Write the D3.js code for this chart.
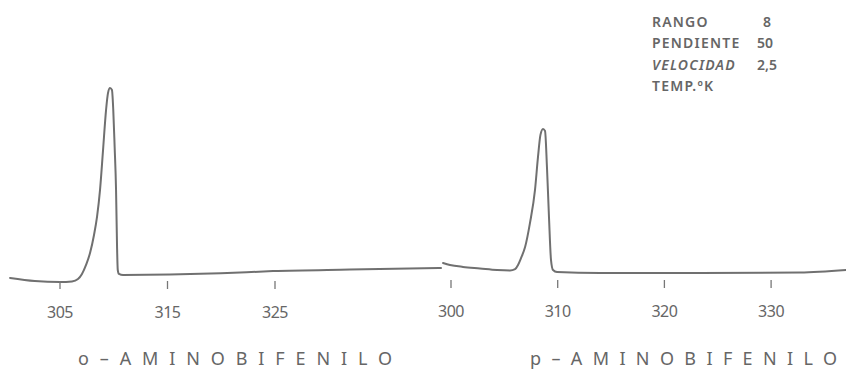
<!DOCTYPE html>
<html><head><meta charset="utf-8">
<script src="https://cdn.jsdelivr.net/npm/d3@7"></script>
<style>
html,body{margin:0;padding:0;background:#fff;}
svg{display:block;}
text{font-family:"Noto Sans",sans-serif;fill:#666;}
</style></head>
<body><svg id="c" width="846" height="372"></svg>
<script>
// o-aminobifenilo trace: temperature (K) and recorder signal (arbitrary units)
const oTemp = [300.4,302.7,305.05,306.16,306.72,307.09,307.47,307.84,308.21,308.49,308.77,309.05,309.33,309.51,309.70,309.88,310.0,310.13,310.26,310.35,310.42,310.53,310.91,315.28,320.0,324.86,332.02,340.49];
const oSignal = [5.5,4.1,3.6,3.9,5.0,7.3,11.4,16.8,25.0,33.2,45.5,63.6,81.8,89.5,91.8,90.9,82.0,65.0,45.5,20.5,9.1,7.3,6.8,7.0,7.6,8.6,9.3,10.0];
// p-aminobifenilo trace
const pTemp = [299.30,299.95,301.17,302.76,304.36,305.58,306.05,306.33,306.61,306.99,307.45,307.92,308.20,308.43,308.67,308.86,309.04,309.23,309.42,309.61,309.98,314.01,323.38,332.76,337.07];
const pSignal = [12.3,11.4,10.5,9.8,9.1,8.9,9.5,11.4,14.5,19.5,30.5,45.5,60.5,70.5,73.2,72.3,55.9,33.2,13.6,9.1,8.2,7.7,7.7,7.95,9.1];
const oTicks = [305,315,325];
const pTicks = [300,310,320,330];
const legendLabels = ["RANGO","PENDIENTE","VELOCIDAD","TEMP.ºK"];
const legendValues = ["8","50","2,5",""];
const titles = ["o–AMINOBIFENILO","p–AMINOBIFENILO"];

const svg = d3.select("#c");
const y = d3.scaleLinear().domain([0,100]).range([290,70]);
const xo = d3.scaleLinear().domain([305,325]).range([59.5,274.5]);
const xp = d3.scaleLinear().domain([300,330]).range([450.5,770.6]);

function trace(xs, ts, ss){
  const line = d3.line().x(d=>xs(d[0])).y(d=>y(d[1])).curve(d3.curveMonotoneX);
  svg.append("path").attr("d", line(ts.map((t,i)=>[t,ss[i]])))
    .attr("fill","none").attr("stroke","#707070").attr("stroke-width",2)
    .attr("stroke-linejoin","round").attr("stroke-linecap","round");
}
trace(xo,oTemp,oSignal);
trace(xp,pTemp,pSignal);

function axis(xs, ticks, ty){
  const g = svg.append("g").attr("transform",`translate(0,${ty})`)
    .call(d3.axisBottom(xs).tickValues(ticks).tickSize(8).tickPadding(18).tickFormat(d3.format("d")));
  g.select(".domain").remove();
  g.selectAll(".tick line").attr("stroke","#777").attr("stroke-width",1.3);
  g.selectAll(".tick text").attr("font-size",16).attr("fill","#666")
    .style("font-family","'Noto Sans',sans-serif").attr("letter-spacing","-0.5");
}
axis(xo,oTicks,281);
axis(xp,pTicks,280);

// legend
const lg = svg.append("g");
legendLabels.forEach((l,i)=>{
  lg.append("text").attr("x",652).attr("y",27+i*21.3).attr("font-size",14)
    .attr("font-weight","600").attr("letter-spacing","1.2")
    .attr("font-style", i===2?"italic":"normal").attr("fill","#7a7a7a").text(l);
  if(legendValues[i]) lg.append("text").attr("x", i===0?763:757).attr("y",27+i*21.3)
    .attr("font-size",14).attr("font-weight","600").attr("fill","#7a7a7a").text(legendValues[i]);
});

// titles
svg.append("text").attr("x",78).attr("y",365).attr("font-size",18)
  .attr("textLength",314).attr("lengthAdjust","spacing").attr("fill","#666").text(titles[0]);
svg.append("text").attr("x",530).attr("y",365).attr("font-size",18)
  .attr("textLength",307).attr("lengthAdjust","spacing").attr("fill","#666").text(titles[1]);
</script></body></html>
